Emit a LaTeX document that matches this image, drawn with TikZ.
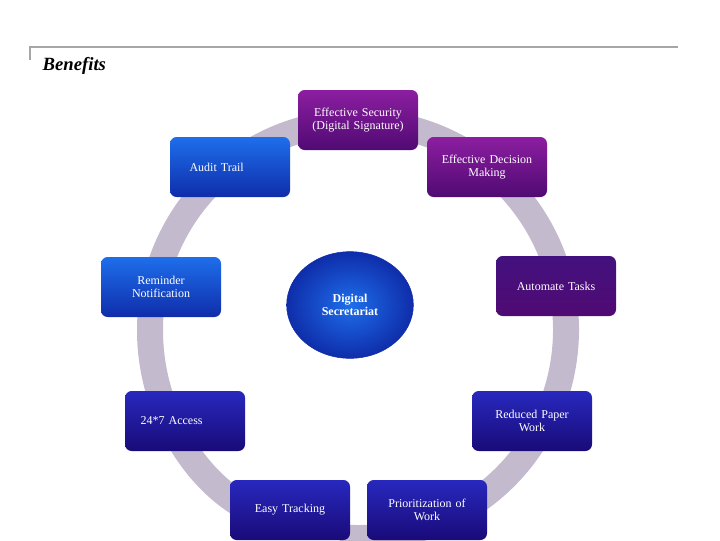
\documentclass[tikz,border=0pt]{standalone}
\usepackage{fontspec}
\setmainfont{Liberation Serif}
\usetikzlibrary{arrows.meta,shapes.geometric}
\definecolor{ringc}{RGB}{196,186,206}
\definecolor{pt}{RGB}{140,30,160}\definecolor{pb}{RGB}{80,10,115}
\definecolor{bt}{RGB}{30,110,235}\definecolor{bb}{RGB}{15,45,170}
\definecolor{dt}{RGB}{40,40,190}\definecolor{db}{RGB}{25,10,120}
\begin{document}
\begin{tikzpicture}[x=0.75pt,y=-0.75pt,
 box/.style={rounded corners=5pt,minimum width=90pt,minimum height=45pt,inner sep=2pt,text=white,font=\fontsize{9}{9.5}\selectfont,align=center,text width=80pt},
 purp/.style={box,top color=pt,bottom color=pb},
 blu/.style={box,top color=bt,bottom color=bb},
 dbl/.style={box,top color=dt,bottom color=db}]
\useasboundingbox (0,0) rectangle (720,540);
\draw[gray!70,line width=1.5pt] (30,60) -- (30,47) -- (678,47);
\node[anchor=west,font=\bfseries\itshape\fontsize{14}{14}\selectfont] (t) at (38,66) {Benefits};
\draw[ringc,line width=19.5pt,-{Triangle[width=34pt,length=16pt]}] (358,330) ++(95:208) arc[start angle=95,end angle=-247,radius=208];
\node[purp] (s) at (358,120) {Effective Security\\(Digital Signature)};
\node[purp] (d) at (487,167) {Effective Decision\\Making};
\node[blu] (a) at (230,167) {\hspace*{-20pt}Audit Trail};
\node[blu] (r) at (161,287) {Reminder\\Notification\\[8pt]};
\node[purp,top color=pb!80!bb] (m) at (556,286) {Automate Tasks};
\node[ellipse,minimum width=95pt,minimum height=80pt,inner color=bt,outer color=bb,draw=bb,text=white,font=\bfseries\fontsize{9}{10}\selectfont,align=center] (c) at (350,305) {Digital\\Secretariat};
\node[dbl] (x) at (185,421) {\hspace*{-20pt}24*7 Access};
\node[dbl] (p) at (532,421) {Reduced Paper\\Work};
\node[dbl] (e) at (290,510) {Easy Tracking};
\node[dbl] (o) at (427,510) {Prioritization of\\Work};
\end{tikzpicture}
\end{document}
